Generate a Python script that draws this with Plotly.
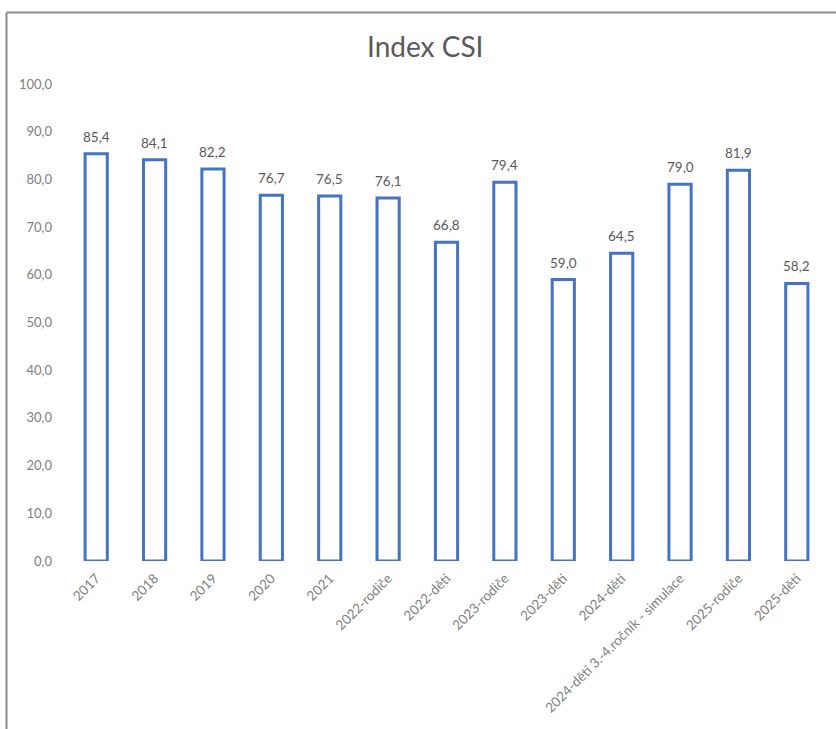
import plotly.graph_objects as go

categories = ["2017", "2018", "2019", "2020", "2021", "2022-rodiče", "2022-děti",
              "2023-rodiče", "2023-děti", "2024-děti", "2024-děti 3.-4.ročník - simulace",
              "2025-rodiče", "2025-děti"]
values = [85.4, 84.1, 82.2, 76.7, 76.5, 76.1, 66.8, 79.4, 59.0, 64.5, 79.0, 81.9, 58.2]
y_ticks = [0, 10, 20, 30, 40, 50, 60, 70, 80, 90, 100]

W, H = 836, 729
L, R, T, B = 67, 10, 84, 168
FONT = "Lato, Open Sans, sans-serif"

fig = go.Figure(go.Bar(
    x=categories, y=values,
    marker=dict(color="white", line=dict(color="#4472C4", width=3)),
    cliponaxis=False, hoverinfo="skip",
))

# data labels: category index positions on the category axis
for i, v in enumerate(values):
    fig.add_annotation(x=i, y=v, text=f"{v:.1f}".replace(".", ","),
                       showarrow=False, yanchor="bottom", yshift=7,
                       font=dict(size=13.5, color="#595959", family=FONT))

# frame lines (chart border), pixel -> paper conversion
pw, ph = W - L - R, H - T - B
def px(x): return (x - L) / pw
def py(y): return (H - B - y) / ph
fig.add_shape(type="line", xref="paper", yref="paper",
              x0=px(6.5), x1=px(840), y0=py(12.5), y1=py(12.5),
              line=dict(color="#8c8c8c", width=2))
fig.add_shape(type="line", xref="paper", yref="paper",
              x0=px(6.5), x1=px(6.5), y0=py(12.5), y1=py(735),
              line=dict(color="#8c8c8c", width=2))

fig.update_layout(
    width=W, height=H,
    margin=dict(l=L, r=R, t=T, b=B, autoexpand=False),
    paper_bgcolor="white", plot_bgcolor="white",
    separators=", ",
    bargap=0.62,
    showlegend=False,
    title=dict(text="Index CSI", x=0.472, xanchor="center", xref="paper",
               y=1 - 47 / H, yanchor="middle",
               font=dict(size=28, color="#595959", family=FONT)),
    font=dict(family=FONT),
)
fig.update_yaxes(range=[0, 100], tickvals=y_ticks, tickformat=".1f",
                 showgrid=False, zeroline=False, showline=False, automargin=False,
                 tickfont=dict(size=13, color="#808080", family=FONT), ticklen=0,
                 ticks="", ticklabelstandoff=14)
fig.update_xaxes(type="category", categoryorder="array", categoryarray=categories,
                 range=[-0.5, len(categories) - 0.5],
                 tickangle=-45, showgrid=False, showline=False, ticks="", automargin=False,
                 ticklabelstandoff=6,
                 tickfont=dict(size=13.5, color="#808080", family=FONT))

fig.write_html("out.html", config={"displayModeBar": False},
               post_script="document.body.style.margin='0';document.body.style.overflow='hidden';")
